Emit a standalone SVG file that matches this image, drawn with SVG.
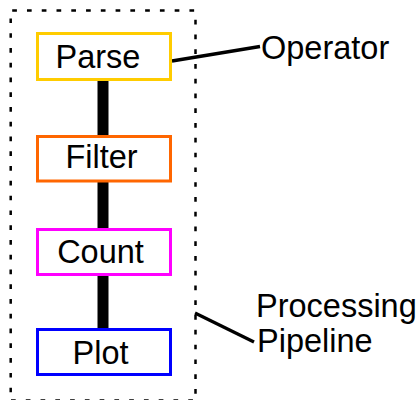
<svg xmlns="http://www.w3.org/2000/svg" width="417" height="400" viewBox="0 0 417 400">
  <style>
    .box { fill: #ffffff; stroke-width: 3; }
    .lbl { font-family: "Liberation Sans", Arial, sans-serif; font-size: 32.5px; fill: #000000; }
    .mid { text-anchor: middle; }
    .pipe { stroke: #000000; stroke-width: 11; }
    .lead { stroke: #000000; stroke-width: 3.3; fill: none; }
    .edge { stroke: #000000; stroke-width: 2.5; stroke-dasharray: 4.7 10.07; fill: none; }
  </style>
  <rect width="417" height="400" fill="#ffffff"/>

  <!-- pipeline boundary: dotted frame drawn side by side -->
  <g id="pipeline">
    <line class="edge" x1="12.2" y1="10.5" x2="196" y2="10.5"/>
    <line class="edge" x1="10.7" y1="18.4" x2="10.7" y2="400"/>
    <line class="edge" x1="195.5" y1="19.7" x2="195.5" y2="400"/>
    <line class="edge" x1="11" y1="400.5" x2="196" y2="400.5"/>
  </g>

  <!-- connectors -->
  <g id="connectors">
    <line class="pipe" x1="103" y1="80" x2="103" y2="137"/>
    <line class="pipe" x1="103" y1="181" x2="103" y2="230"/>
    <line class="pipe" x1="103" y1="275" x2="103" y2="330"/>
    <line class="lead" x1="172" y1="61" x2="260" y2="46.5"/>
    <line class="lead" x1="195" y1="313" x2="254" y2="342"/>
  </g>

  <g id="parse">
    <rect class="box" x="37.5" y="33.5" width="133" height="46" stroke="#ffcc00"/>
    <text class="lbl mid" x="98" y="68">Parse</text>
  </g>
  <g id="filter">
    <rect class="box" x="37.5" y="136.5" width="133" height="44.5" stroke="#ff6600"/>
    <text class="lbl mid" x="101.5" y="168">Filter</text>
  </g>
  <g id="count">
    <rect class="box" x="37.5" y="229.5" width="133" height="45" stroke="#ff00ff"/>
    <text class="lbl mid" x="100.5" y="263">Count</text>
  </g>
  <g id="plot">
    <rect class="box" x="37.5" y="329.5" width="133" height="45" stroke="#0000ff"/>
    <text class="lbl mid" x="100.5" y="364">Plot</text>
  </g>

  <g id="operator-label">
    <text class="lbl" x="261" y="59">Operator</text>
  </g>
  <g id="pipeline-label">
    <text class="lbl" x="256" y="317">Processing</text>
    <text class="lbl" x="257" y="352">Pipeline</text>
  </g>
</svg>
